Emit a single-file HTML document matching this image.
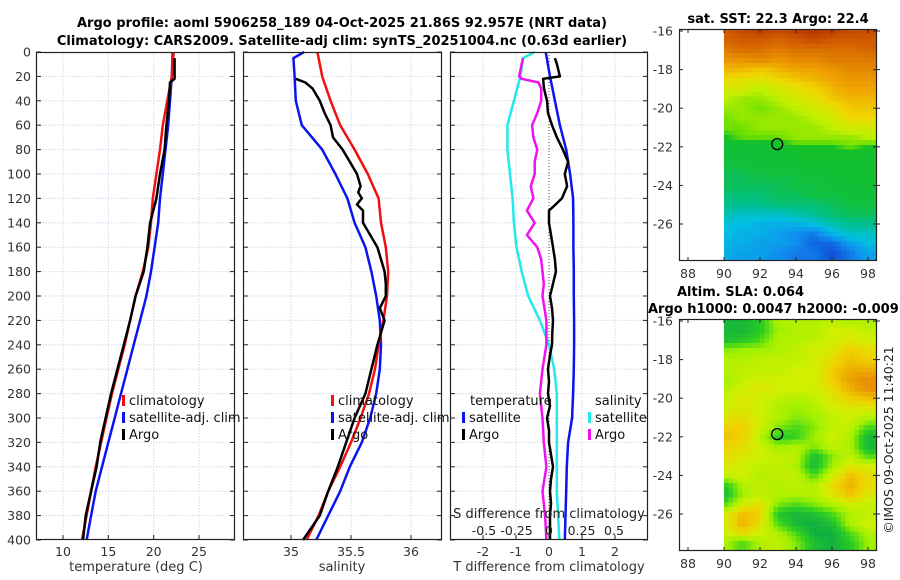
<!DOCTYPE html>
<html><head><meta charset="utf-8">
<style>
html,body{margin:0;padding:0;background:#fff;}
svg{display:block;font-family:"DejaVu Sans","Liberation Sans",sans-serif;}
</style></head>
<body>
<svg id="fig" width="900" height="580" viewBox="0 0 900 580" xmlns="http://www.w3.org/2000/svg">
<rect x="0" y="0" width="900" height="580" fill="#fff"/>
<text x="342" y="27" text-anchor="middle" font-size="13" font-weight="bold" fill="#000">Argo profile: aoml 5906258_189 04-Oct-2025 21.86S 92.957E (NRT data)</text>
<text x="342" y="45" text-anchor="middle" font-size="13" font-weight="bold" fill="#000">Climatology: CARS2009. Satellite-adj clim: synTS_20251004.nc (0.63d earlier)</text>
<text x="778" y="23" text-anchor="middle" font-size="13" font-weight="bold" fill="#000">sat. SST: 22.3  Argo: 22.4</text>
<text x="677" y="296" font-size="13" font-weight="bold" fill="#000">Altim. SLA: 0.064</text>
<text x="648" y="313" font-size="13" font-weight="bold" fill="#000">Argo h1000: 0.0047 h2000: -0.009</text>
<text transform="translate(893,440) rotate(-90)" text-anchor="middle" font-size="12.5" fill="#222">©IMOS 09-Oct-2025 11:40:21</text>
<g id="plots"></g>
</svg>
<script>
// ---------------- data ----------------
const depthTicks = [0,20,40,60,80,100,120,140,160,180,200,220,240,260,280,300,320,340,360,380,400];

const tempClimDepth = [0,20,40,60,80,100,120,140,160,180,200,220,240,260,280,300,320,340,360,380,400];
const tempClim = [22.2,22.0,21.5,21.0,20.7,20.3,19.9,19.7,19.4,18.8,18.0,17.4,16.8,16.1,15.4,14.8,14.2,13.6,13.1,12.6,12.1];
const tempSat = [22.1,22.0,21.8,21.6,21.3,21.0,20.7,20.5,20.1,19.7,19.2,18.5,17.8,17.1,16.4,15.7,15.0,14.3,13.6,13.1,12.6];
const tempArgoDepth = [5,22,25,40,60,80,100,120,140,160,180,200,220,240,260,280,300,320,340,360,380,400];
const tempArgo = [22.3,22.3,21.8,21.7,21.4,21.2,20.7,20.3,19.6,19.3,18.9,18.0,17.4,16.7,16.0,15.3,14.7,14.1,13.7,13.1,12.5,12.2];

const salClimDepth = [0,20,40,60,80,100,120,140,160,180,200,220,240,260,280,300,320,340,360,380,400];
const salClim = [35.22,35.26,35.33,35.41,35.53,35.64,35.73,35.75,35.79,35.81,35.80,35.77,35.73,35.70,35.65,35.58,35.50,35.41,35.31,35.23,35.13];
const salSatDepth = [0,5,20,40,60,80,100,120,140,160,180,200,220,240,260,280,300,320,340,360,380,400];
const salSat = [35.11,35.02,35.03,35.04,35.09,35.26,35.37,35.47,35.53,35.62,35.67,35.71,35.74,35.75,35.74,35.71,35.66,35.59,35.49,35.41,35.31,35.21];
const salArgoDepth = [22,25,30,40,50,60,70,80,90,100,110,115,120,125,130,140,150,160,170,180,190,200,210,220,240,260,280,300,320,340,360,380,400];
const salArgo = [35.04,35.12,35.18,35.24,35.28,35.33,35.35,35.43,35.49,35.55,35.58,35.56,35.59,35.55,35.60,35.60,35.66,35.72,35.75,35.78,35.79,35.79,35.74,35.78,35.72,35.67,35.62,35.53,35.46,35.39,35.31,35.24,35.10];

const tdiffSatDepth = [0,20,40,60,80,100,120,140,160,180,200,220,240,260,280,300,320,340,360,380,400];
const tdiffSat = [-0.1,0.03,0.18,0.33,0.52,0.64,0.73,0.74,0.74,0.75,0.75,0.76,0.76,0.75,0.73,0.70,0.58,0.54,0.52,0.50,0.48];
const tdiffArgoDepth = [5,10,20,22,30,40,50,60,70,80,90,100,110,120,125,130,140,150,160,170,180,190,200,210,220,230,240,250,260,270,280,290,300,310,320,330,340,350,360,370,380,390,400];
const tdiffArgo = [0.18,0.24,0.33,-0.18,-0.15,-0.06,-0.03,0.09,0.24,0.42,0.58,0.48,0.55,0.39,0.2,0.0,0.0,0.06,0.12,0.18,0.21,0.12,0.03,0.09,0.12,0.10,0.09,0.02,-0.03,0.0,-0.03,0.03,-0.06,0.0,0.0,0.06,0.12,0.06,0.03,0.06,0.03,0.03,0.03];
const sdiffSatDepth = [0,5,20,40,60,80,100,120,140,160,180,200,220,240,260,280,300,320,340,360,380,400];
const sdiffSat = [-0.11,-0.2,-0.22,-0.27,-0.32,-0.32,-0.30,-0.28,-0.27,-0.25,-0.21,-0.16,-0.07,0.0,0.04,0.06,0.06,0.06,0.06,0.06,0.07,0.08];
const sdiffArgoDepth = [5,20,22,25,30,40,50,60,70,80,90,100,110,120,130,140,150,160,170,180,190,200,220,240,260,280,300,320,340,360,380,400];
const sdiffArgo = [-0.2,-0.23,-0.21,-0.08,-0.06,-0.06,-0.09,-0.13,-0.12,-0.09,-0.11,-0.11,-0.14,-0.12,-0.17,-0.11,-0.17,-0.09,-0.06,-0.05,-0.04,-0.05,-0.02,-0.02,-0.05,-0.07,-0.05,-0.04,-0.02,-0.05,-0.03,-0.02];

const tempTicks = [10,15,20,25];
const salTicks = [35,35.5,36];
const tdiffTicks = [-2,-1,0,1,2];
const sdiffTicks = [-0.5,-0.25,0,0.25,0.5];
const sdiffTickLabels = ["-0.5","-0.25","0","0.25","0.5"];

const mapLons = [90,91,92,93,94,95,96,97,98];
const mapLats = [-16,-16.5,-17,-17.5,-18,-18.5,-19,-19.5,-20,-20.5,-21,-21.5,-22,-22.5,-23,-23.5,-24,-24.5,-25,-25.5,-26,-26.5,-27,-27.5];
const lonTicks = [88,90,92,94,96,98];
const latTicks = [-16,-18,-20,-22,-24,-26];
const argoLon = 92.957, argoLat = -21.86;
const sstGrid = [
[23.8,23.9,24.0,23.9,24.0,24.1,24.0,23.9,23.9],
[23.7,23.8,23.8,23.7,23.8,23.9,23.8,23.8,23.8],
[23.5,23.6,23.6,23.5,23.6,23.6,23.6,23.6,23.7],
[23.3,23.3,23.4,23.3,23.4,23.4,23.5,23.5,23.5],
[23.1,23.1,23.0,23.1,23.2,23.2,23.3,23.4,23.4],
[22.9,22.8,22.8,22.9,23.0,23.1,23.2,23.3,23.3],
[22.7,22.7,22.6,22.7,22.8,22.9,23.1,23.2,23.2],
[22.6,22.5,22.5,22.6,22.7,22.8,23.0,23.1,23.1],
[22.5,22.5,22.4,22.5,22.6,22.7,22.8,23.0,23.0],
[22.4,22.5,22.5,22.5,22.5,22.6,22.7,22.9,22.9],
[22.4,22.4,22.5,22.5,22.5,22.5,22.6,22.7,22.7],
[22.3,22.4,22.4,22.4,22.5,22.5,22.5,22.5,22.6],
[22.1,22.1,22.1,22.2,22.3,22.3,22.3,22.4,22.3],
[22.1,22.1,22.1,22.1,22.2,22.2,22.2,22.2,22.2],
[22.0,22.0,22.1,22.1,22.1,22.2,22.2,22.2,22.2],
[21.9,21.9,22.0,22.0,22.0,22.1,22.1,22.2,22.2],
[21.9,21.9,21.9,21.9,22.0,22.0,22.1,22.1,22.1],
[21.8,21.8,21.8,21.9,21.9,22.0,22.0,22.1,22.1],
[21.7,21.7,21.7,21.8,21.8,21.8,21.9,22.0,22.0],
[21.6,21.5,21.5,21.5,21.6,21.7,21.8,21.9,21.9],
[21.4,21.4,21.3,21.3,21.3,21.4,21.6,21.7,21.7],
[21.4,21.3,21.3,21.2,21.1,21.0,21.3,21.5,21.5],
[21.3,21.3,21.2,21.2,21.1,20.9,20.9,21.2,21.4],
[21.3,21.2,21.2,21.1,21.0,21.0,20.8,21.0,21.2]];
const slaGrid = [
[0.1,0.1,0.2,0.5,0.5,0.5,0.55,0.5,0.5],
[0.1,0.1,0.2,0.45,0.5,0.5,0.6,0.6,0.55],
[0.15,0.2,0.3,0.5,0.5,0.55,0.6,0.65,0.6],
[0.4,0.45,0.45,0.5,0.55,0.6,0.65,0.75,0.7],
[0.5,0.5,0.55,0.55,0.55,0.6,0.7,0.8,0.75],
[0.5,0.55,0.55,0.55,0.6,0.6,0.75,0.85,0.85],
[0.45,0.55,0.6,0.6,0.6,0.6,0.75,0.9,0.95],
[0.5,0.6,0.65,0.6,0.6,0.6,0.7,0.85,0.95],
[0.55,0.65,0.6,0.55,0.5,0.55,0.65,0.75,0.8],
[0.6,0.65,0.6,0.5,0.45,0.5,0.6,0.65,0.65],
[0.65,0.7,0.6,0.5,0.4,0.45,0.55,0.6,0.5],
[0.75,0.75,0.6,0.4,0.3,0.4,0.55,0.55,0.3],
[0.8,0.75,0.55,0.2,0.25,0.45,0.6,0.5,0.1],
[0.75,0.7,0.6,0.45,0.5,0.4,0.55,0.5,0.1],
[0.7,0.65,0.6,0.55,0.55,0.15,0.4,0.55,0.3],
[0.65,0.6,0.55,0.55,0.5,0.1,0.45,0.65,0.6],
[0.55,0.6,0.5,0.55,0.55,0.3,0.6,0.8,0.7],
[0.2,0.5,0.55,0.5,0.55,0.5,0.7,0.85,0.7],
[0.1,0.45,0.55,0.5,0.5,0.5,0.65,0.8,0.65],
[0.3,0.6,0.7,0.4,0.3,0.4,0.5,0.6,0.55],
[0.6,0.8,0.75,0.2,0.1,0.15,0.3,0.5,0.55],
[0.6,0.85,0.7,0.3,0.1,0.05,0.15,0.5,0.6],
[0.55,0.7,0.6,0.5,0.3,0.05,0.05,0.3,0.5],
[0.5,0.3,0.5,0.55,0.4,0.15,0.05,0.2,0.45]];

// ---------------- drawing ----------------
const NS = "http://www.w3.org/2000/svg";
const root = document.getElementById("plots");
function mk(tag, attrs, parent){ const e=document.createElementNS(NS,tag); for(const k in attrs) e.setAttribute(k,attrs[k]); (parent||root).appendChild(e); return e; }

const PY0 = 52, PY1 = 540;
const yDepth = d => PY0 + (d/400)*(PY1-PY0);
const GRID = "#d3d7ee";

function panel(x0, x1, name){
  const g = mk("g",{});
  
  
  mk("rect",{x:x0,y:PY0,width:x1-x0,height:PY1-PY0,fill:"#fff"},g);
  return g;
}
function grids(g,x0,x1,xs){
  depthTicks.forEach(d=>{ if(d>0&&d<400){ const l=mk("line",{x1:x0,x2:x1,y1:yDepth(d),y2:yDepth(d),stroke:GRID,"stroke-width":1,"stroke-dasharray":"1.5,1.5"},g);   }});
  xs.forEach(x=>{ const l=mk("line",{x1:x,x2:x,y1:PY0,y2:PY1,stroke:GRID,"stroke-width":1,"stroke-dasharray":"1.5,1.5"},g);   });
}
function frame(g,x0,x1,xs,labels,showY){
  depthTicks.forEach(d=>{
    mk("line",{x1:x0,x2:x0+5,y1:yDepth(d),y2:yDepth(d),stroke:"#222"},g);
    mk("line",{x1:x1-5,x2:x1,y1:yDepth(d),y2:yDepth(d),stroke:"#222"},g);
    if(showY){ const t=mk("text",{x:x0-5,y:yDepth(d)+4.5,"text-anchor":"end","font-size":"12.5",fill:"#333"},g); t.textContent=d;
        }
  });
  xs.forEach((x,i)=>{
    mk("line",{x1:x,x2:x,y1:PY1-5,y2:PY1,stroke:"#222"},g);
    if(labels){ const t=mk("text",{x:x,y:PY1+16,"text-anchor":"middle","font-size":"12.5",fill:"#333"},g); t.textContent=labels[i];
        }
  });
  const r=mk("rect",{x:x0+0.5,y:PY0+0.5,width:x1-x0-1,height:PY1-PY0-1,fill:"none",stroke:"#222","stroke-width":1.2},g);
   
}
function line(g,vals,depths,xf,color,w,name){
  const pts = vals.map((v,i)=>xf(v).toFixed(1)+","+yDepth(depths[i]).toFixed(1)).join(" ");
  const p = mk("polyline",{points:pts,fill:"none",stroke:color,"stroke-width":w,"stroke-linejoin":"round"},g);
  
  
}
function legend(g,x,y,color,label,name){
  mk("rect",{x:x,y:y-9,width:3,height:11,fill:color},g);
  const t=mk("text",{x:x+7,y:y+1,"font-size":"13",fill:"#111"},g); t.textContent=label;
  
  
}
function txt(g,x,y,s,size,anchor,name,color){
  const t=mk("text",{x:x,y:y,"font-size":size,"text-anchor":anchor||"start",fill:color||"#333"},g); t.textContent=s;
  
  
}

// Panel 1 temperature
{
  const x0=36,x1=235, xT = v => 63 + (v-10)*9.07;
  const g = panel(x0,x1,'temperature-panel');
  const xs = tempTicks.map(xT);
  grids(g,x0,x1,xs);
  line(g,tempSat,tempClimDepth,xT,"#0a14f0",2.5,'temp-satellite-line');
  line(g,tempClim,tempClimDepth,xT,"#f01010",2.5,'temp-climatology-line');
  line(g,tempArgo,tempArgoDepth,xT,"#000",2.5,'temp-argo-line');
  frame(g,x0,x1,xs,tempTicks,true);
  legend(g,122,404,"#f01010","climatology",'legend-climatology');
  legend(g,122,421,"#0a14f0","satellite-adj. clim",'legend-satellite-adj');
  legend(g,122,438,"#000","Argo",'legend-argo');
  txt(g,136,571,"temperature (deg C)","13","middle",'temperature-axis-title');
}
// Panel 2 salinity
{
  const x0=243,x1=442, xS = v => 291 + (v-35)*120;
  const g = panel(x0,x1,'salinity-panel');
  const xs = salTicks.map(xS);
  grids(g,x0,x1,xs);
  line(g,salSat,salSatDepth,xS,"#0a14f0",2.5,'sal-satellite-line');
  line(g,salClim,salClimDepth,xS,"#f01010",2.5,'sal-climatology-line');
  line(g,salArgo,salArgoDepth,xS,"#000",2.5,'sal-argo-line');
  frame(g,x0,x1,xs,salTicks,false);
  legend(g,331,404,"#f01010","climatology",'legend-climatology-sal');
  legend(g,331,421,"#0a14f0","satellite-adj. clim",'legend-satellite-adj-sal');
  legend(g,331,438,"#000","Argo",'legend-argo-sal');
  txt(g,342,571,"salinity","13","middle",'salinity-axis-title');
}
// Panel 3 differences
{
  const x0=450,x1=648, xD = v => 549 + v*33, xSD = v => 549 + v*130;
  const g = panel(x0,x1,'difference-panel');
  const xs = tdiffTicks.map(xD);
  grids(g,x0,x1,xs);
  const z=mk("line",{x1:549,x2:549,y1:PY0,y2:PY1,stroke:"#555","stroke-width":1,"stroke-dasharray":"1,2"},g);
   
  line(g,sdiffSat,sdiffSatDepth,xSD,"#22eaea",2.5,'sdiff-satellite-line');
  line(g,sdiffArgo,sdiffArgoDepth,xSD,"#f010f0",2.5,'sdiff-argo-line');
  line(g,tdiffSat,tdiffSatDepth,xD,"#0a14f0",2.5,'tdiff-satellite-line');
  line(g,tdiffArgo,tdiffArgoDepth,xD,"#000",2.5,'tdiff-argo-line');
  frame(g,x0,x1,xs,tdiffTicks,false);
  txt(g,470,405,"temperature","13","start",'legend-temperature-heading',"#111");
  legend(g,462,421,"#0a14f0","satellite",'legend-tdiff-satellite');
  legend(g,462,438,"#000","Argo",'legend-tdiff-argo');
  txt(g,595,405,"salinity","13","start",'legend-salinity-heading',"#111");
  legend(g,588,421,"#22eaea","satellite",'legend-sdiff-satellite');
  legend(g,588,438,"#f010f0","Argo",'legend-sdiff-argo');
  txt(g,549,518,"S difference from climatology","13","middle",'s-diff-axis-title',"#222");
  sdiffTicks.forEach((v,i)=>txt(g,xSD(v),535,sdiffTickLabels[i],"12.5","middle",'s-diff-tick-label',"#222"));
  txt(g,549,571,"T difference from climatology","13","middle",'t-diff-axis-title');
}
// Maps
function lerpColor(stops, v){
  if(v<=stops[0][0]) return stops[0][1];
  for(let i=1;i<stops.length;i++){
    if(v<=stops[i][0]){
      const [a,ca]=stops[i-1],[b,cb]=stops[i]; const t=(v-a)/(b-a);
      const pa=[1,3,5].map(k=>parseInt(ca.substr(k,2),16)), pb=[1,3,5].map(k=>parseInt(cb.substr(k,2),16));
      return "rgb("+pa.map((q,j)=>Math.round(q+(pb[j]-q)*t)).join(",")+")";
    }
  }
  return stops[stops.length-1][1];
}
// bilinear sample of a data grid at (lon,lat) for smooth rendering
function sample(grid, lon, lat){
  let c = Math.max(0, Math.min(mapLons.length-1.001, lon-90));
  let r = Math.max(0, Math.min(mapLats.length-1.001, (-16-lat)/0.5));
  const c0=Math.floor(c), r0=Math.floor(r), fc=c-c0, fr=r-r0;
  const c1=Math.min(c0+1,mapLons.length-1), r1=Math.min(r0+1,mapLats.length-1);
  return grid[r0][c0]*(1-fc)*(1-fr)+grid[r0][c1]*fc*(1-fr)+grid[r1][c0]*(1-fc)*fr+grid[r1][c1]*fc*fr;
}
const sstStops=[[20.8,"#1050d8"],[21.1,"#1090f0"],[21.4,"#00c0e0"],[21.7,"#00c090"],[22.0,"#10c040"],[22.3,"#14c028"],[22.4,"#70e000"],[22.6,"#c0f000"],[22.9,"#f0d800"],[23.2,"#f0a400"],[23.5,"#e07c00"],[23.8,"#d05a00"],[24.1,"#b83400"]];
const slaStops=[[0.05,"#10b040"],[0.25,"#30d020"],[0.45,"#a0f000"],[0.6,"#d0f000"],[0.75,"#f0d000"],[0.95,"#e89000"]];
function drawMap(top, grid, stops, name){
  const L=679,R=877,T=top,B=top+232;
  const xL = lon => 724 + (lon-90)*18;
  const yL = lat => top + 2 + (-16-lat)*19.3;
  const g = mk("g",{});
  
  
  const cid = name+"-clip";
  const cp = mk("clipPath",{id:cid},g); mk("rect",{x:724,y:T,width:R-724,height:B-T},cp);
  const cells = mk("g",{"clip-path":"url(#"+cid+")","shape-rendering":"crispEdges"},g);
  const step = 0.25;
  for(let lat=-15.9; lat>-28.1; lat-=step){
    for(let lon=90; lon<98.6; lon+=step){
      const v = sample(grid, lon+step/2, lat-step/2);
      const rc = mk("rect",{x:xL(lon).toFixed(1),y:yL(lat).toFixed(1),width:(step*18+0.7).toFixed(1),height:(step*19.3+0.7).toFixed(1),fill:lerpColor(stops,v)},cells);
      
      
    }
  }
  const circ = mk("circle",{cx:xL(argoLon),cy:yL(argoLat),r:5.5,fill:"none",stroke:"#000","stroke-width":1.3},g);
  
  
  mk("rect",{x:L+0.5,y:T+0.5,width:R-L-1,height:B-T-1,fill:"none",stroke:"#222","stroke-width":1.2},g);
  lonTicks.forEach(lon=>{
    mk("line",{x1:xL(lon),x2:xL(lon),y1:T,y2:T+4,stroke:"#222"},g);
    mk("line",{x1:xL(lon),x2:xL(lon),y1:B-4,y2:B,stroke:"#222"},g);
    txt(g,xL(lon),B+17,String(lon),"12.5","middle",'lon-tick-label');
  });
  latTicks.forEach(lat=>{
    mk("line",{x1:L,x2:L+4,y1:yL(lat),y2:yL(lat),stroke:"#222"},g);
    mk("line",{x1:R-4,x2:R+3,y1:yL(lat),y2:yL(lat),stroke:"#222"},g);
    txt(g,L-6,yL(lat)+4.5,String(lat),"12.5","end",'lat-tick-label');
  });
}
drawMap(29, sstGrid, sstStops, 'sst-map');
drawMap(319, slaGrid, slaStops, 'sla-map');
</script>
</body></html>
